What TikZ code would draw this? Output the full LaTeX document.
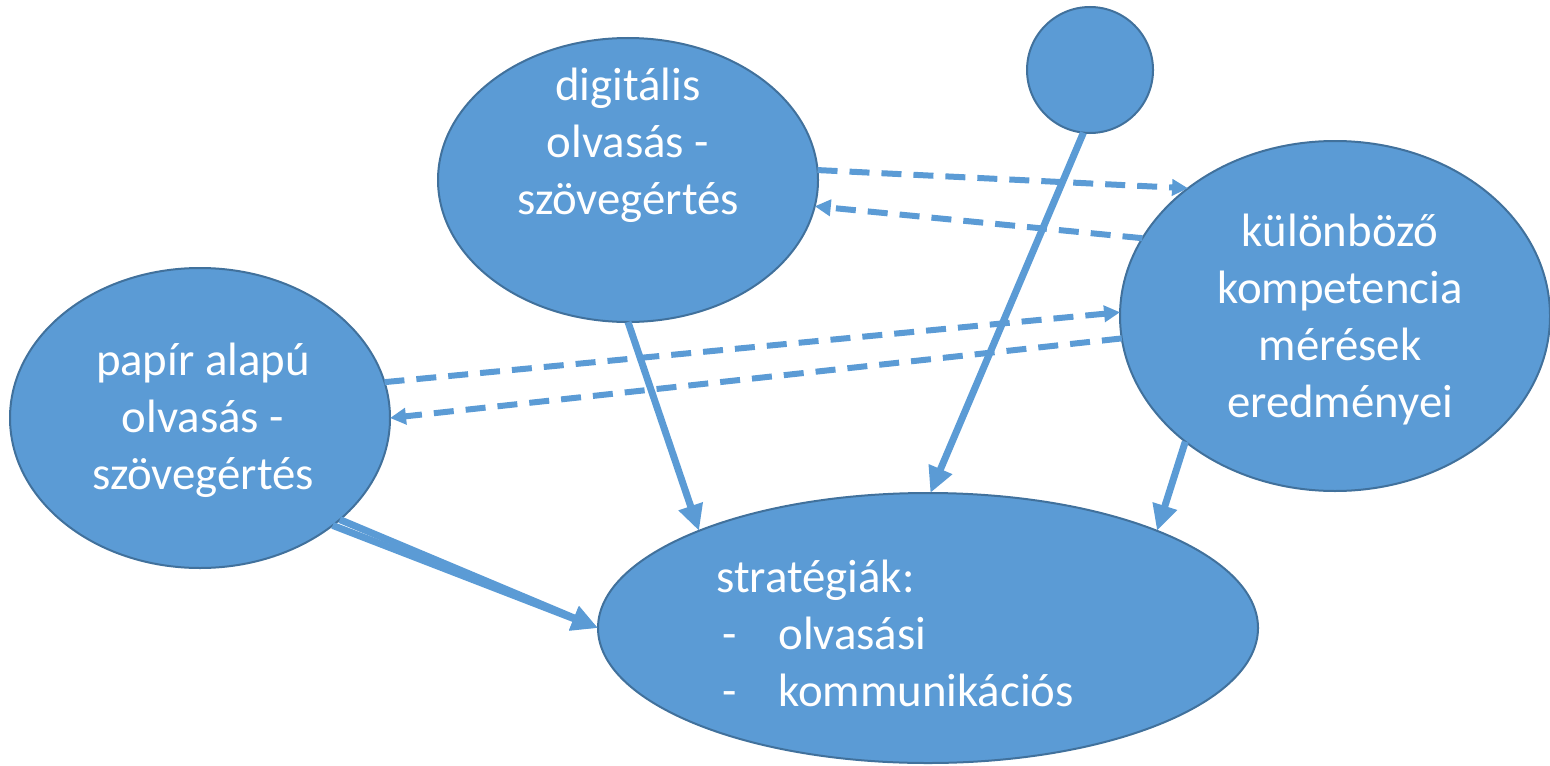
\documentclass[tikz,border=0pt]{standalone}
\usepackage{fontspec}
\setmainfont{Carlito}
\usetikzlibrary{shapes.geometric,arrows.meta}
\definecolor{fillblue}{HTML}{5B9BD5}
\definecolor{edgeblue}{HTML}{41719C}
\begin{document}
\begin{tikzpicture}[x=0.5pt,y=-0.5pt,
  blob/.style={ellipse,draw=edgeblue,line width=1pt,fill=fillblue,inner sep=0pt,outer sep=0pt},
  txt/.style={text=white,font=\fontsize{23.4}{28.5}\selectfont,align=center,inner sep=0pt},
  solidarrow/.style={draw=fillblue,line width=3.5pt,-{Triangle[length=13pt,width=12pt]}},
  dasharrow/.style={draw=fillblue,line width=3pt,dash pattern=on 10pt off 6pt,-{Triangle[length=8pt,width=8pt]}}]
\useasboundingbox (0,0) rectangle (1550,765);
\node[blob,minimum width=190pt,minimum height=142pt] (dig) at (628,180) {};
\node[blob,circle,minimum size=63pt] (circ) at (1090,70) {};
\node[blob,minimum width=215pt,minimum height=175pt] (kul) at (1335,316) {};
\node[blob,minimum width=190pt,minimum height=150pt] (pap) at (200,418) {};
\node[blob,minimum width=330pt,minimum height=135pt] (strat) at (928,628) {};
\node[txt] (digt) at (628,145) {digitális\\olvasás -\\szövegértés};
\node[txt] (kult) at (1340,320) {különböző\\kompetencia\\mérések\\eredményei};
\node[txt] (papt) at (203,420) {papír alapú\\olvasás -\\szövegértés};
\node[txt,align=left,anchor=west] (stratt) at (716,633) {stratégiák:\\\makebox[31pt][l]{\hspace{3pt}-}olvasási\\\makebox[31pt][l]{\hspace{3pt}-}kommunikációs};
\draw[dasharrow] (dig.3) -- (kul.139);
\draw[dasharrow] (kul.158) -- (dig.-8);
\draw[dasharrow] (pap.11) -- (kul.179);
\draw[dasharrow] (kul.186) -- (pap.0);
\draw[solidarrow] (dig.south) -- (strat.157.7);
\draw[solidarrow] (circ.-96) -- (strat.89);
\draw[solidarrow] (kul.220) -- (strat.23);
\draw[solidarrow] (pap.-39.5) -- (strat.180);
\draw[solidarrow] (pap.-36.5) -- (strat.180);
\end{tikzpicture}
\end{document}
